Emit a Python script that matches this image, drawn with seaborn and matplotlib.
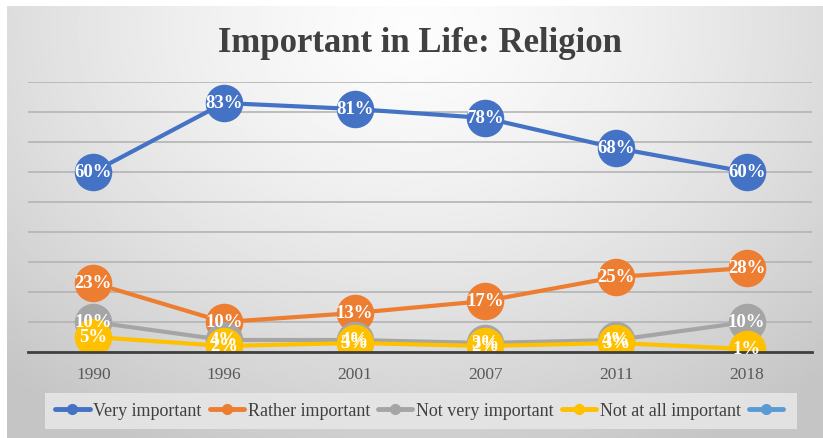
import numpy as np
import pandas as pd
import matplotlib.pyplot as plt
from matplotlib.lines import Line2D
import seaborn as sns

# ── Data ───────────────────────────────────────────────────────────────────
years = ["1990", "1996", "2001", "2007", "2011", "2018"]
very_important = [60, 83, 81, 78, 68, 60]
rather_important = [23, 10, 13, 17, 25, 28]
not_very_important = [10, 4, 4, 3, 4, 10]
not_at_all_important = [5, 2, 3, 2, 3, 1]

series_names = ["Very important", "Rather important",
                "Not very important", "Not at all important"]
series_values = [very_important, rather_important,
                 not_very_important, not_at_all_important]
colors = ["#4472C4", "#ED7D31", "#A5A5A5", "#FFC000"]
extra_color = "#5B9BD5"

df = pd.DataFrame({
    "Year": years * len(series_names),
    "Share": [v / 100 for vals in series_values for v in vals],
    "Series": [n for n in series_names for _ in years],
})

# ── Style ──────────────────────────────────────────────────────────────────
sns.set_theme(style="white")
plt.rcParams["font.family"] = ["Liberation Serif", "DejaVu Serif"]

fig = plt.figure(figsize=(8.23, 4.39), dpi=100)

# background gradient (light at top-centre, grey at edges)
bg = fig.add_axes([7 / 823, 0, 1 - 7 / 823, 1 - 7 / 439])
yy, xx = np.mgrid[0:1:200j, 0:1:400j]
r = np.sqrt(((xx - 0.5) / 0.75) ** 2 + ((yy - 0.05) / 1.1) ** 2)
shade = 0.99 - 0.22 * np.clip(r, 0, 1) ** 1.4
bg.imshow(shade, cmap="gray", vmin=0, vmax=1, aspect="auto",
          extent=[0, 1, 0, 1], origin="upper")
bg.set_axis_off()

ax = fig.add_axes([28 / 823, 1 - 353 / 439, (812 - 28) / 823, (353 - 83) / 439])
ax.patch.set_alpha(0)

for name, color in zip(series_names, colors):
    sub = df[df["Series"] == name]
    sns.lineplot(data=sub, x="Year", y="Share", ax=ax, color=color,
                 linewidth=3, marker="o", markersize=27, markeredgewidth=0,
                 legend=False, sort=False)

# data labels
for vals in series_values:
    for i, v in enumerate(vals):
        ax.text(i, v / 100, f"{v}%", ha="center", va="center", color="white",
                fontsize=13.5, fontweight="bold", zorder=10)

ax.set_xlim(-0.5, len(years) - 0.5)
ax.set_ylim(0, 0.9)
ax.set_yticks(np.arange(0, 0.91, 0.1))
ax.set_yticklabels([])
ax.yaxis.grid(True, color="#b4b4b4", linewidth=1.2)
ax.set_axisbelow(True)
for s in ["top", "right", "left"]:
    ax.spines[s].set_visible(False)
ax.spines["bottom"].set_color("#404040")
ax.spines["bottom"].set_linewidth(2)
ax.tick_params(axis="x", length=0, labelsize=12.5, labelcolor="#595959", pad=10)
ax.tick_params(axis="y", length=0)
ax.set_xlabel("")
ax.set_ylabel("")

fig.text(420 / 823, 1 - 44 / 439, "Important in Life: Religion", ha="center", va="center",
         fontsize=25, fontweight="bold", color="#404040")

handles = [Line2D([], [], color=c, linewidth=3.5, marker="o", markersize=7)
           for c in colors + [extra_color]]
labels = series_names + [""]
leg = fig.legend(handles, labels, loc="center", bbox_to_anchor=(421 / 823, 1 - 412 / 439),
                 ncol=5, frameon=True, fontsize=13, handlelength=1.9,
                 handletextpad=0.2, columnspacing=0.45, borderpad=0.35)
leg.get_frame().set_facecolor("#e6e6e6")
leg.get_frame().set_edgecolor("none")
leg.get_frame().set_alpha(0.9)
leg.get_frame().set_boxstyle("square", pad=0.2)
for t in leg.get_texts():
    t.set_color("#404040")

plt.savefig("out.png", dpi=100)
plt.close()
